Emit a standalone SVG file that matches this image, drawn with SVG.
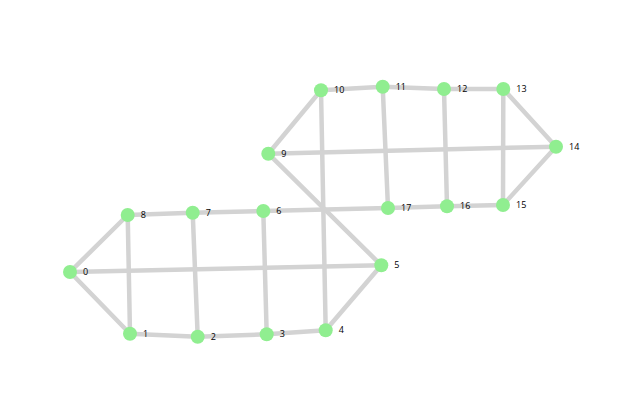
<svg xmlns="http://www.w3.org/2000/svg" width="637" height="411" viewBox="0 0 637 411">
<style>
.e{stroke:#d3d3d3;stroke-width:4.5;fill:none;stroke-linecap:round}
.n circle{fill:#90ee90}
.n text{font-family:"Open Sans","Liberation Sans",sans-serif;font-size:9px;fill:#000}
</style>
<rect width="637" height="411" fill="#fff"/>
<g id="edges">
<line class="e" x1="70" y1="272" x2="127.7" y2="215"/>
<line class="e" x1="70" y1="272" x2="130" y2="333.7"/>
<line class="e" x1="70" y1="272" x2="381.3" y2="265.3"/>
<line class="e" x1="127.7" y1="215" x2="192.7" y2="212.7"/>
<line class="e" x1="127.7" y1="215" x2="130" y2="333.7"/>
<line class="e" x1="192.7" y1="212.7" x2="263.3" y2="211"/>
<line class="e" x1="192.7" y1="212.7" x2="197.7" y2="336.7"/>
<line class="e" x1="263.3" y1="211" x2="388" y2="208"/>
<line class="e" x1="263.3" y1="211" x2="266.7" y2="334.3"/>
<line class="e" x1="130" y1="333.7" x2="197.7" y2="336.7"/>
<line class="e" x1="197.7" y1="336.7" x2="266.7" y2="334.3"/>
<line class="e" x1="266.7" y1="334.3" x2="325.7" y2="330.3"/>
<line class="e" x1="325.7" y1="330.3" x2="381.3" y2="265.3"/>
<line class="e" x1="325.7" y1="330.3" x2="321" y2="90.3"/>
<line class="e" x1="381.3" y1="265.3" x2="268.3" y2="153.7"/>
<line class="e" x1="268.3" y1="153.7" x2="321" y2="90.3"/>
<line class="e" x1="268.3" y1="153.7" x2="556" y2="146.7"/>
<line class="e" x1="321" y1="90.3" x2="382.7" y2="86.7"/>
<line class="e" x1="382.7" y1="86.7" x2="444" y2="89"/>
<line class="e" x1="444" y1="89" x2="503.3" y2="89"/>
<line class="e" x1="382.7" y1="86.7" x2="388" y2="208"/>
<line class="e" x1="444" y1="89" x2="447" y2="206.3"/>
<line class="e" x1="503.3" y1="89" x2="503" y2="205"/>
<line class="e" x1="503.3" y1="89" x2="556" y2="146.7"/>
<line class="e" x1="556" y1="146.7" x2="503" y2="205"/>
<line class="e" x1="503" y1="205" x2="447" y2="206.3"/>
<line class="e" x1="447" y1="206.3" x2="388" y2="208"/>
</g>
<g id="node0" class="n"><circle cx="70" cy="272" r="7"/><text x="83" y="275">0</text></g>
<g id="node1" class="n"><circle cx="130" cy="333.7" r="7"/><text x="143" y="336.7">1</text></g>
<g id="node2" class="n"><circle cx="197.7" cy="336.7" r="7"/><text x="210.7" y="339.7">2</text></g>
<g id="node3" class="n"><circle cx="266.7" cy="334.3" r="7"/><text x="279.7" y="337.3">3</text></g>
<g id="node4" class="n"><circle cx="325.7" cy="330.3" r="7"/><text x="338.7" y="333.3">4</text></g>
<g id="node5" class="n"><circle cx="381.3" cy="265.3" r="7"/><text x="394.3" y="268.3">5</text></g>
<g id="node6" class="n"><circle cx="263.3" cy="211" r="7"/><text x="276.3" y="214">6</text></g>
<g id="node7" class="n"><circle cx="192.7" cy="212.7" r="7"/><text x="205.7" y="215.7">7</text></g>
<g id="node8" class="n"><circle cx="127.7" cy="215" r="7"/><text x="140.7" y="218">8</text></g>
<g id="node9" class="n"><circle cx="268.3" cy="153.7" r="7"/><text x="281.3" y="156.7">9</text></g>
<g id="node10" class="n"><circle cx="321" cy="90.3" r="7"/><text x="334" y="93.3">10</text></g>
<g id="node11" class="n"><circle cx="382.7" cy="86.7" r="7"/><text x="395.7" y="89.7">11</text></g>
<g id="node12" class="n"><circle cx="444" cy="89" r="7"/><text x="457" y="92">12</text></g>
<g id="node13" class="n"><circle cx="503.3" cy="89" r="7"/><text x="516.3" y="92">13</text></g>
<g id="node14" class="n"><circle cx="556" cy="146.7" r="7"/><text x="569" y="149.7">14</text></g>
<g id="node15" class="n"><circle cx="503" cy="205" r="7"/><text x="516" y="208">15</text></g>
<g id="node16" class="n"><circle cx="447" cy="206.3" r="7"/><text x="460" y="209.3">16</text></g>
<g id="node17" class="n"><circle cx="388" cy="208" r="7"/><text x="401" y="211">17</text></g>
</svg>
